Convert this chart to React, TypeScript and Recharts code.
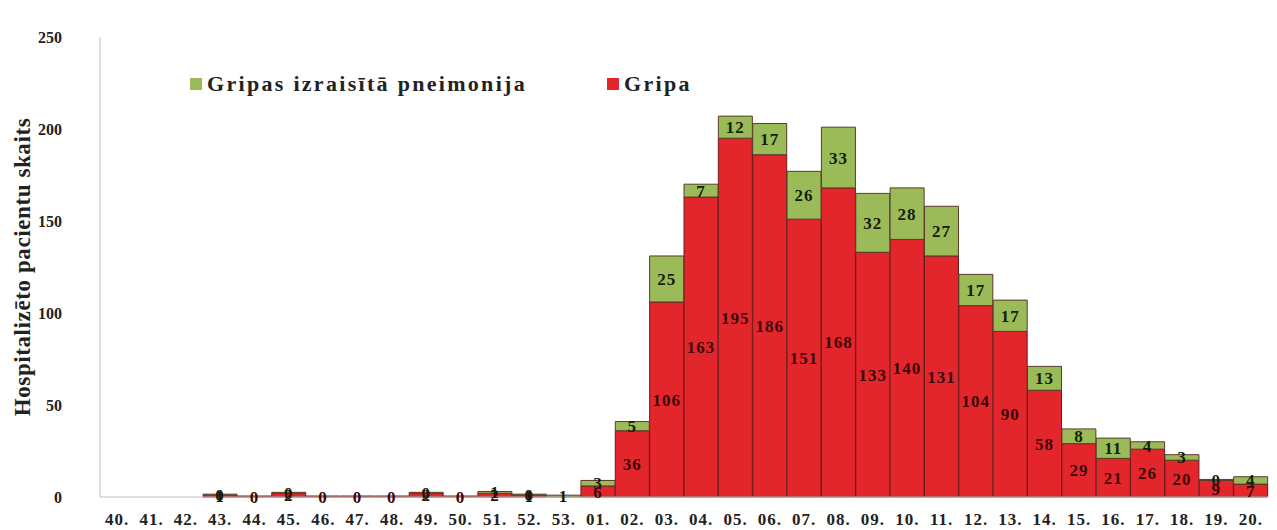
import { BarChart, Bar, XAxis, YAxis, LabelList } from 'recharts';

const weeks = [
  '40.', '41.', '42.', '43.', '44.', '45.', '46.', '47.', '48.', '49.', '50.', '51.', '52.', '53.',
  '01.', '02.', '03.', '04.', '05.', '06.', '07.', '08.', '09.', '10.', '11.', '12.', '13.', '14.',
  '15.', '16.', '17.', '18.', '19.', '20.',
];

const gripa = [
  null, null, null, 1, 0, 2, 0, 0, 0, 2, 0, 2, 1, null,
  6, 36, 106, 163, 195, 186, 151, 168, 133, 140, 131, 104, 90, 58,
  29, 21, 26, 20, 9, 7,
];

const pneimonija = [
  null, null, null, 0, null, 0, null, null, null, 0, null, 1, 0, 1,
  3, 5, 25, 7, 12, 17, 26, 33, 32, 28, 27, 17, 17, 13,
  8, 11, 4, 3, 0, 4,
];

const yTicks = [0, 50, 100, 150, 200, 250];

const RED = '#e3262b';
const GREEN = '#9bbb59';
const SERIF = '"Liberation Serif", "Times New Roman", serif';

const data = weeks.map((w, i) => ({ week: w, gripa: gripa[i], pneimonija: pneimonija[i] }));

const legendItems = [
  { name: 'Gripas izraisītā pneimonija', color: GREEN, left: 190 },
  { name: 'Gripa', color: RED, left: 607 },
];

const labelStyle = { fontFamily: SERIF, fontWeight: 'bold', fontSize: 17, letterSpacing: 1 };

// zero values get a hairline so their "0" label is drawn; missing weeks get nothing
const minSizeFor = (values: (number | null)[]) => (_v: any, i: number) => (values[i] == null ? 0 : 1);

export default function App() {
  return (
    <div style={{ position: 'absolute', left: 0, top: 0, width: 1277, height: 530, background: '#fff' }}>
      <BarChart
        width={1277}
        height={530}
        data={data}
        margin={{ top: 37, right: 9, bottom: 0, left: 0 }}
        barCategoryGap={0}
        barGap={0}
      >
        <XAxis
          dataKey="week"
          height={33}
          interval={0}
          tickLine={false}
          axisLine={{ stroke: '#bfbfbf' }}
          tickMargin={10}
          tick={{ fontFamily: SERIF, fontWeight: 'bold', fontSize: 17, fill: '#222', letterSpacing: 1 }}
        />
        <YAxis
          width={100}
          domain={[0, 250]}
          ticks={yTicks}
          tickLine={false}
          axisLine={{ stroke: '#bfbfbf' }}
          tickMargin={32}
          tick={{ fontFamily: SERIF, fontWeight: 'bold', fontSize: 16, fill: '#222' }}
          label={{
            value: 'Hospitalizēto pacientu skaits',
            angle: -90,
            position: 'insideLeft',
            offset: 22,
            style: { fontFamily: SERIF, fontWeight: 'bold', fontSize: 23, fill: '#222', textAnchor: 'middle', letterSpacing: 0.6 },
          }}
        />
        <Bar dataKey="gripa" name="Gripa" stackId="a" fill={RED} stroke="#6e1a1a" strokeWidth={1} minPointSize={minSizeFor(gripa)} isAnimationActive={false}>
          <LabelList dataKey="gripa" position="center" style={{ ...labelStyle, fill: '#3a0808' }} />
        </Bar>
        <Bar dataKey="pneimonija" name="Gripas izraisītā pneimonija" stackId="a" fill={GREEN} stroke="#5a3a2a" strokeWidth={1} minPointSize={minSizeFor(pneimonija)} isAnimationActive={false}>
          <LabelList dataKey="pneimonija" position="center" style={{ ...labelStyle, fill: '#14200a' }} />
        </Bar>
      </BarChart>
      {legendItems.map((it) => (
        <div
          key={it.name}
          style={{
            position: 'absolute',
            left: it.left,
            top: 71,
            display: 'flex',
            alignItems: 'center',
            fontFamily: SERIF,
            fontWeight: 'bold',
            fontSize: 22,
            letterSpacing: 2.3,
            color: '#222',
            whiteSpace: 'nowrap',
          }}
        >
          <span style={{ display: 'inline-block', width: 12, height: 12, background: it.color, marginRight: 5 }} />
          <span>{it.name}</span>
        </div>
      ))}
    </div>
  );
}
